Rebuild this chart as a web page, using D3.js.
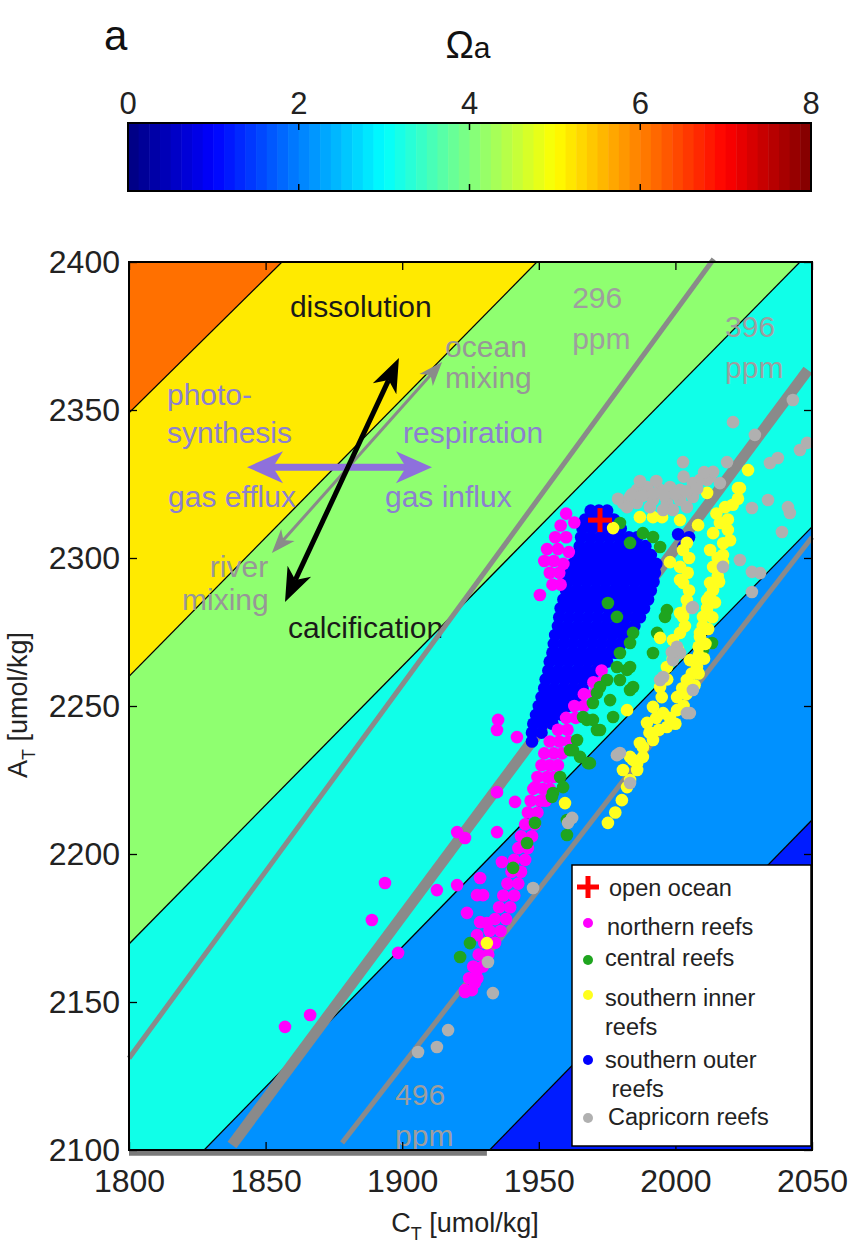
<!DOCTYPE html>
<html><head><meta charset="utf-8">
<script src="https://cdn.jsdelivr.net/npm/d3@7"></script>
<style>
body{margin:0;background:#fff}
text{font-family:"Liberation Sans",Arial,sans-serif}
</style>
</head><body>
<svg id="c" width="863" height="1244"></svg>
<script>
// ---------------- DATA ----------------
const xTicks = [1800,1850,1900,1950,2000,2050];
const yTicks = [2100,2150,2200,2250,2300,2350,2400];
const cbTicks = [0,2,4,6,8];
// Omega_a contour boundaries (CT, AT), from low to high level
const omegaBoundaries = [
  [[1932,2100],[2050,2211.5]],
  [[1827.5,2100],[2050,2310.5]],
  [[1800,2169.6],[2045.6,2400]],
  [[1800,2260],[1949.3,2400]],
  [[1800,2349],[1856,2400]]
];
const regionColors = ["#001cff","#0091ff","#10ffe8","#8fff70","#ffea00","#ff7000"];
// pCO2 isolines
const pco2Labels = ["296","396","496"];
const pco2Lines = [
  [[1800,2131],[2014,2401]],
  [[1837.7,2101.7],[2048.5,2363.5]],
  [[1878,2102.4],[2050,2307]]
];
const pco2Bottom = [[1800,2099.6],[1931,2099.6]];
const openOcean = [[1972.4,2312.8]];
const southernOuter = [
[1969,2316],[1972,2316],[1975,2316],
[1967,2313],[1970.5,2313],[1974,2313],[1977.5,2313],
[1966,2310],[1969.5,2310],[1973,2310],[1976.5,2310],[1980,2310],
[1965.5,2307],[1969,2307],[1972.5,2307],[1976,2307],[1979.5,2307],[1983,2307],[1986,2307],[2001,2308],[2005,2307],[2003,2304],
[1965,2304],[1968.5,2304],[1972,2304],[1975.5,2304],[1979,2304],[1982.5,2304],[1986,2304],[1989,2304],
[1964,2301],[1967.5,2301],[1971,2301],[1974.5,2301],[1978,2301],[1981.5,2301],[1985,2301],[1988.5,2301],[1991,2301],
[1962.5,2298],[1966,2298],[1969.5,2298],[1973,2298],[1976.5,2298],[1980,2298],[1983.5,2298],[1987,2298],[1990.5,2298],[1993,2298],
[1961.5,2295],[1965,2295],[1968.5,2295],[1972,2295],[1975.5,2295],[1979,2295],[1982.5,2295],[1986,2295],[1989.5,2295],[1992.5,2295],
[1960.5,2292],[1964,2292],[1967.5,2292],[1971,2292],[1974.5,2292],[1978,2292],[1981.5,2292],[1985,2292],[1988.5,2292],[1992,2292],
[1960,2289],[1963.5,2289],[1967,2289],[1970.5,2289],[1974,2289],[1977.5,2289],[1981,2289],[1984.5,2289],[1988,2289],[1991,2289],
[1959,2286],[1962.5,2286],[1966,2286],[1969.5,2286],[1973,2286],[1976.5,2286],[1980,2286],[1983.5,2286],[1987,2286],[1990,2286],
[1958,2283],[1961.5,2283],[1965,2283],[1968.5,2283],[1972,2283],[1975.5,2283],[1979,2283],[1982.5,2283],[1986,2283],[1988.5,2283],
[1957.5,2280],[1961,2280],[1964.5,2280],[1968,2280],[1971.5,2280],[1975,2280],[1978.5,2280],[1982,2280],[1985.5,2280],[1987,2280],
[1957,2277],[1960.5,2277],[1964,2277],[1967.5,2277],[1971,2277],[1974.5,2277],[1978,2277],[1981.5,2277],[1985,2277],
[1956,2274],[1959.5,2274],[1963,2274],[1966.5,2274],[1970,2274],[1973.5,2274],[1977,2274],[1980.5,2274],[1983,2274],
[1955.5,2271],[1959,2271],[1962.5,2271],[1966,2271],[1969.5,2271],[1973,2271],[1976.5,2271],[1980,2271],
[1955,2268],[1958.5,2268],[1962,2268],[1965.5,2268],[1969,2268],[1972.5,2268],[1976,2268],[1978,2268],
[1954,2265],[1957.5,2265],[1961,2265],[1964.5,2265],[1968,2265],[1971.5,2265],[1975,2265],
[1953.5,2262],[1957,2262],[1960.5,2262],[1964,2262],[1967.5,2262],[1971,2262],
[1952.5,2259],[1956,2259],[1959.5,2259],[1963,2259],[1966.5,2259],[1969.5,2259],
[1952,2256],[1955.5,2256],[1959,2256],[1962.5,2256],[1966,2256],
[1951,2253],[1954.5,2253],[1958,2253],[1961.5,2253],[1964,2253],
[1950,2250],[1953.5,2250],[1957,2250],[1960.5,2250],
[1949,2247],[1952.5,2247],[1956,2247],[1958.5,2247],
[1948,2244],[1951.5,2244],[1955,2244],
[1947.5,2241],[1951,2241],
[1947.5,2238]
];
const northernReefs = [
[1960,2315],[1963,2312],[1958,2311],[1956,2307],[1960,2307],[1953,2303],[1957,2303],[1961,2302],
[1952,2299],[1955.5,2299],[1959,2298],[1954,2295],[1957.5,2295],[1955,2291],[1958,2291],[1950.4,2287.5],
[1973,2262],[1970,2258],[1973,2258],[1966.5,2254],[1970,2254],[1963,2250],[1966.5,2250],
[1960,2246],[1963.5,2246],[1957,2242],[1960.5,2242],[1954,2238],[1957.5,2238],[1961,2238],
[1952,2234],[1955.5,2234],[1958.5,2234],[1951,2230],[1954,2230],[1957,2230],
[1949.5,2226],[1953,2226],[1955.5,2226],[1948,2222],[1951.5,2222],[1954,2222],
[1947,2218],[1950.5,2218],[1952.5,2218],[1946,2214],[1949.5,2214],[1945,2210],[1948.5,2210],
[1943.5,2206],[1947.5,2206],[1942.5,2202],[1946,2202],[1941,2198],[1945,2198],
[1940,2194],[1943.5,2194],[1938.5,2190],[1942.5,2190],[1937,2186],[1941,2186],
[1935.5,2182],[1939.5,2182],[1934,2178],[1938,2178],[1932,2174],[1936,2174],
[1930,2170],[1934,2170],[1928,2166],[1931.5,2166],[1926,2162],[1929.5,2162],
[1924.5,2158],[1927.5,2158],[1923,2154],[1925.5,2154],
[1935.1,2245.3],[1934.7,2241.9],[1942.0,2239.5],[1934.7,2220.9],[1941.3,2217.6],[1948.6,2222.6],
[1920.1,2207.4],[1923.0,2205.4],[1934.7,2207.4],[1912.7,2187.8],[1920.1,2189.5],[1928.5,2191.9],
[1927.4,2186.1],[1929.6,2186.1],[1923.7,2180.1],[1928.5,2177.0],[1927.4,2172.6],[1936.5,2197.3],
[1893.7,2190.2],[1888.9,2177.7],[1898.5,2166.6],[1857.1,2141.6],[1866.3,2145.6],
[1923.0,2153.4],[1926.6,2156.4],[1927.4,2160.8],[1931.0,2176.7]
];
const centralReefs = [
[1979.7,2311.8],[1983.4,2305.1],[1988.1,2308.4],[1991.8,2307.1],[1994.4,2303.7],
[1996.9,2282.4],[1996.2,2280.1],[1993.3,2274.7],[1991.8,2267.9],[1984.5,2274.7],[1983.4,2271.3],
[1979.7,2267.9],[1982.3,2262.2],[1978.6,2263.2],[1975.0,2258.8],[1979.7,2258.8],[1983.4,2255.4],
[1972.4,2256.4],[1971.3,2254.4],[1969.8,2251.0],[1976.1,2252.0],[1977.2,2246.3],[1966.2,2246.3],
[1971.3,2241.9],[1967.6,2245.3],[1964.0,2238.5],[1961.4,2235.1],[1965.1,2232.8],[1968.7,2230.7],
[1957.8,2226.0],[1955.2,2220.6],[1975.3,2284.8],[1978.6,2280.1],[2010.1,2268.9],[2013.4,2271.3],
[1984.5,2256.4],[1983.4,2263.2],[1969.8,2245.3],[1972.4,2241.9],[1962.5,2235.1],[1968.0,2230.7],
[1958.9,2222.6],[1954.8,2219.3],[1960.3,2211.5],[1948.6,2210.5],[1945.7,2203.7],[1940.6,2195.3],
[1960.3,2206.4],[1924.8,2169.9],[1921.2,2165.2]
];
const southernInner = [
[2026.6,2329.7],[2023.6,2323.6],[2022.9,2320],[2018.2,2317.2],[2019.2,2313],[2016.3,2311.8],
[2019.2,2309.5],[2013.8,2308.4],[2017.5,2305],[2012.7,2302.7],[2017.4,2301],[2017.4,2298.3],
[2013.8,2297.0],[2015.5,2294],[2012.7,2291.6],[2013.8,2289.2],[2012.5,2287],[2011.6,2285.8],
[2011.6,2283],[2011.6,2281.4],[2010.1,2280.1],[2010,2277],[2009.0,2274.7],[2009.0,2273.3],
[2008.5,2270],[2008.5,2267],[2007.9,2263.2],[2005.3,2265.5],[2006,2261],[2004.2,2258.8],
[2002.5,2256],[2000.6,2253.0],[2000.6,2248.6],[1998,2246],[1995.5,2247.6],[1996.9,2242.9],
[1994,2242],[1991.8,2240.9],[1991.8,2238.5],[1988.1,2236.1],[1988.1,2232.8],[1986.0,2230.7],
[1986.0,2228.4],[1983.4,2225.0],[1982.3,2222.6],[1980.4,2218.2],[1978,2214],[1975.3,2210.5],
[1959.6,2217.2],[1931.0,2169.9],
[2002.8,2302.7],[2004.2,2305.1],[2001.7,2297.0],[2001.7,2292.6],[2002.8,2291.6],[2004.2,2285.8],
[2001.7,2281.4],[2002.8,2280.1],[2001.7,2274.7],[1999.1,2272.3],[1996.9,2263.2],[1994.4,2256.4],
[1991.8,2249.7],[1989.6,2244.3],[1987.0,2237.5],[1983.4,2232.8],[1980.8,2228.4],
[1977.2,2310.1],[1987.0,2313.8],[1991.8,2313.8],[1995.1,2313.8],[2001.7,2312.8],[2008.3,2311.1],
[1998.0,2298.6],[1994.4,2273.0],[2011.6,2322.0],[2022.9,2323.6],[1982.3,2248.6],[1984.5,2231.8],
[2015,2315],[2021,2318],[2020,2306],[2015.5,2300],[2016,2292],[2014.5,2285],[2013.5,2280],
[2012,2276],[2011,2271],[2010.5,2266],[2008.5,2261],[2007,2257],[2004,2254],[2003,2250],[2000,2244],
[2005,2300],[2004.5,2295],[2005,2289],[2004.5,2283],[2003.5,2277],[2001,2269],[1999,2266],
[1997,2259],[1995,2253],[1993,2246],[1990.5,2241]
];
const capricornReefs = [
[2043.0,2353.4],[2021.1,2345.9],[2029.1,2341.6],[2018.9,2332.4],[2002.8,2332.4],[2045.6,2336.5],
[2048.2,2338.9],[2034.6,2332.1],[2037.5,2333.8],[2028.0,2316.9],[2033.9,2319.6],[2041.2,2317.2],
[2041.9,2315.2],[2039.0,2308.8],[2023.6,2299.3],[2017.4,2297.0],[2028.0,2295.3],[2031.0,2294.9],
[2028.0,2288.5],[2006.1,2283.1],[2016.3,2325.3],[2011.6,2326.4],
[1980.8,2318.6],[1983.4,2320.6],[1985.9,2323.0],[1989.6,2324.0],[1994.4,2323.0],[1998.0,2324.0],
[2001.7,2323.0],[2006.4,2325.3],[2009.0,2326.4],[2012.7,2327.4],[2013.8,2329.1],[1991.8,2319.6],
[1996.9,2318.6],[2001.7,2319.6],[2006.4,2320.6],[1999.1,2316.2],[2004.2,2317.2],[1985.9,2318.6],
[1990.7,2317.2],[1995.5,2316.2],[1982.3,2317.2],
[1984,2321.5],[1988,2321],[1992,2321.8],[1996,2321],[2000,2321.5],[2004,2322.5],[2008,2323.5],
[2010.5,2329],[1987,2326],[1993,2326],[2003,2327.5],[1979,2320],
[2006.4,2283.4],[2000.6,2270.0],[2001.7,2267.9],[1999.1,2265.5],[1995.5,2259.8],[1994.4,2258.8],
[2006.4,2255.4],[2004.2,2247.6],[1979.7,2234.1],[1983.4,2224.0],[1978.6,2233.4],[1962.2,2212.2],
[1960.7,2210.5],[1947.9,2188.5],[2005.3,2247.6],[1998.7,2268.2],[1931.4,2163.5],[1933.2,2153.0],
[1916.8,2140.5],[1912.7,2134.8],[1905.8,2133.1]
];
// process arrows (CT, AT of the two tips)
const arrowCalc = [[1857.1,2285.1],[1898.8,2367.6]];
const arrowMix = [[1852.3,2301.7],[1914.6,2366.2]];
const arrowGas = [[1843.2,2330.7],[1910.9,2330.7]];
// annotation texts [text, CT, AT]
const blackLabels = [["dissolution",1858.9,2381.4],["calcification",1858.2,2273.0]];
const grayLabels = [["ocean",1915.7,2367.9],["mixing",1915.7,2357.4],["river",1829.6,2293.6],["mixing",1819.4,2282.4]];
const purpleLabels = [["photo-",1813.9,2351.7],["synthesis",1813.9,2338.9],["respiration",1900.3,2338.9],["gas efflux",1814.3,2317.2],["gas influx",1893.7,2317.2]];
const ppmLabelPos = [[1962.2,2384.5],[2018.2,2374.7],[1897.4,2115.2]];
const legendLabels = [["open ocean"],["northern reefs"],["central reefs"],["southern inner","reefs"],["southern outer"," reefs"],["Capricorn reefs"]];

// ---------------- DRAW ----------------
const svg = d3.select("#c");
const x = d3.scaleLinear([1800,2050],[129,812]);
const y = d3.scaleLinear([2100,2400],[1150,262]);
const cb = d3.scaleLinear([0,8],[128,811]);
const jet = t => {
  const c = v => Math.max(0, Math.min(1, v));
  return d3.rgb(255*c(1.5-Math.abs(4*t-3)), 255*c(1.5-Math.abs(4*t-2)), 255*c(1.5-Math.abs(4*t-1)));
};

// panel label + title
svg.append("text").attr("x",104).attr("y",50).attr("font-size",42).attr("fill","#111").text("a");
const tt = svg.append("text").attr("x",468).attr("y",58).attr("text-anchor","middle").attr("fill","#111");
tt.append("tspan").attr("font-size",38).text("Ω");
tt.append("tspan").attr("font-size",30).text("a");

// colorbar
const nC = 64;
svg.append("g").selectAll("rect").data(d3.range(nC)).join("rect")
  .attr("x", i => cb(i*8/nC)).attr("width", i => cb((i+1)*8/nC)-cb(i*8/nC)+0.5)
  .attr("y",123).attr("height",68).attr("fill", i => jet((i+0.5)/nC));
svg.append("rect").attr("x",cb(0)).attr("y",123).attr("width",cb(8)-cb(0)).attr("height",68)
  .attr("fill","none").attr("stroke","#000").attr("stroke-width",2);
const cbAx = svg.append("g");
cbAx.selectAll("line.t").data(cbTicks.slice(1,-1)).join("line")
  .attr("x1",d=>cb(d)).attr("x2",d=>cb(d)).attr("y1",123).attr("y2",130).attr("stroke","#000").attr("stroke-width",1.5);
cbAx.selectAll("line.b").data(cbTicks.slice(1,-1)).join("line")
  .attr("x1",d=>cb(d)).attr("x2",d=>cb(d)).attr("y1",184).attr("y2",191).attr("stroke","#000").attr("stroke-width",1.5);
cbAx.selectAll("text").data(cbTicks).join("text")
  .attr("x",d=>cb(d)).attr("y",114).attr("text-anchor","middle").attr("font-size",31).attr("fill","#222").text(d=>d);

// clip
svg.append("clipPath").attr("id","plotclip").append("rect")
  .attr("x",x(1800)).attr("y",y(2400)).attr("width",x(2050)-x(1800)).attr("height",y(2100)-y(2400));
const plot = svg.append("g").attr("clip-path","url(#plotclip)");

// filled Omega regions
const atAt = (seg, ct) => { const [[a,b],[c,d]] = seg; return b + (d-b)/(c-a)*(ct-a); };
const lo = 1700, hi = 2150;
regionColors.forEach((col, i) => {
  const upper = i < omegaBoundaries.length ? [[lo, atAt(omegaBoundaries[i],lo)],[hi, atAt(omegaBoundaries[i],hi)]] : [[lo,2600],[hi,2600]];
  const lower = i > 0 ? [[hi, atAt(omegaBoundaries[i-1],hi)],[lo, atAt(omegaBoundaries[i-1],lo)]] : [[hi,1900],[lo,1900]];
  const pts = upper.concat(lower).map(([c,a]) => [x(c), y(a)]);
  plot.append("path").attr("d", "M" + pts.join("L") + "Z").attr("fill", col);
});
omegaBoundaries.forEach(seg => {
  plot.append("line").attr("x1",x(lo)).attr("y1",y(atAt(seg,lo))).attr("x2",x(hi)).attr("y2",y(atAt(seg,hi)))
    .attr("stroke","#000").attr("stroke-width",1.3);
});

// labels (below lines)
const annot = svg.append("g").attr("font-size",30);
annot.selectAll("text.b").data(blackLabels).join("text").attr("x",d=>x(d[1])).attr("y",d=>y(d[2])).attr("fill","#1a1a1a").text(d=>d[0]);
annot.selectAll("text.g").data(grayLabels).join("text").attr("x",d=>x(d[1])).attr("y",d=>y(d[2])).attr("fill","#979797").text(d=>d[0]);
annot.selectAll("text.p").data(purpleLabels).join("text").attr("x",d=>x(d[1])).attr("y",d=>y(d[2])).attr("fill","#8c80d0").text(d=>d[0]);
pco2Labels.forEach((lab,i) => {
  annot.append("text").attr("x",x(ppmLabelPos[i][0])).attr("y",y(ppmLabelPos[i][1])).attr("fill","#9e9e9e").text(lab);
  annot.append("text").attr("x",x(ppmLabelPos[i][0])).attr("y",y(ppmLabelPos[i][1])+41).attr("fill","#9e9e9e").text("ppm");
});

// pCO2 lines
const pWidths = [5,11,5];
pco2Lines.forEach((seg,i) => {
  svg.append("line").attr("x1",x(Math.max(1800,seg[0][0]))).attr("y1",y(seg[0][1])).attr("x2",x(seg[1][0])).attr("y2",y(seg[1][1]))
    .attr("stroke","#8a8a8a").attr("stroke-width",pWidths[i]);
});
svg.append("line").attr("x1",x(pco2Bottom[0][0])).attr("y1",y(pco2Bottom[0][1])+2).attr("x2",x(pco2Bottom[1][0])).attr("y2",y(pco2Bottom[1][1])+2)
  .attr("stroke","#7a7a7a").attr("stroke-width",5);

// arrows
function dblArrow(seg, color, w, len, hw) {
  const p0 = [x(seg[0][0]), y(seg[0][1])], p1 = [x(seg[1][0]), y(seg[1][1])];
  const dx = p1[0]-p0[0], dy = p1[1]-p0[1], L = Math.hypot(dx,dy);
  const u = [dx/L, dy/L], n = [-u[1], u[0]];
  const g = svg.append("g");
  const notch = 0.72;
  g.append("line").attr("x1",p0[0]+u[0]*len*notch).attr("y1",p0[1]+u[1]*len*notch)
    .attr("x2",p1[0]-u[0]*len*notch).attr("y2",p1[1]-u[1]*len*notch).attr("stroke",color).attr("stroke-width",w);
  const head = (tip, dir) => {
    const b = [tip[0]-dir[0]*len, tip[1]-dir[1]*len];
    const m = [tip[0]-dir[0]*len*notch, tip[1]-dir[1]*len*notch];
    const pts = [tip, [b[0]+n[0]*hw, b[1]+n[1]*hw], m, [b[0]-n[0]*hw, b[1]-n[1]*hw]];
    g.append("path").attr("d","M"+pts.join("L")+"Z").attr("fill",color);
  };
  head(p1, u); head(p0, [-u[0],-u[1]]);
}
dblArrow(arrowMix, "#8a8a8a", 3, 24, 9);
dblArrow(arrowGas, "#8e70dc", 7, 36, 16);
dblArrow(arrowCalc, "#000", 5, 34, 13);

// scatter
const R = 6.3;
const sc = svg.append("g").attr("clip-path","url(#plotclip)");
const dots = (arr, col) => sc.append("g").selectAll("circle").data(arr).join("circle")
  .attr("cx",d=>x(d[0])).attr("cy",d=>y(d[1])).attr("r",R).attr("fill",col);
dots(southernOuter, "#0000ff");
dots(northernReefs, "#ff00ff");
dots(centralReefs, "#1fa51f");
dots(southernInner, "#ffff1e");
dots(capricornReefs, "#b0b0b0");
const cross = (g, cx, cy, s, w) => {
  g.append("line").attr("x1",cx-s).attr("x2",cx+s).attr("y1",cy).attr("y2",cy).attr("stroke","#ff0000").attr("stroke-width",w);
  g.append("line").attr("x1",cx).attr("x2",cx).attr("y1",cy-s).attr("y2",cy+s).attr("stroke","#ff0000").attr("stroke-width",w);
};
openOcean.forEach(d => cross(sc, x(d[0]), y(d[1]), 12, 5));

// axes
const fmt = d3.format("d");
const axB = svg.append("g").attr("transform",`translate(0,${y(2100)})`)
  .call(d3.axisBottom(x).tickValues(xTicks).tickFormat(fmt).tickSizeInner(-8).tickSizeOuter(0).tickPadding(19));
const axL = svg.append("g").attr("transform",`translate(${x(1800)},0)`)
  .call(d3.axisLeft(y).tickValues(yTicks).tickFormat(fmt).tickSizeInner(-8).tickSizeOuter(0).tickPadding(9));
const axT = svg.append("g").attr("transform",`translate(0,${y(2400)})`)
  .call(d3.axisTop(x).tickValues(xTicks).tickFormat("").tickSizeInner(-8).tickSizeOuter(0));
const axR = svg.append("g").attr("transform",`translate(${x(2050)},0)`)
  .call(d3.axisRight(y).tickValues(yTicks).tickFormat("").tickSizeInner(-8).tickSizeOuter(0));
[axB,axL,axT,axR].forEach(a => {
  a.select(".domain").remove();
  a.selectAll(".tick line").attr("stroke","#000").attr("stroke-width",1.3);
  a.selectAll("text").attr("font-size",32).attr("fill","#222").attr("font-family",'"Liberation Sans",Arial,sans-serif');
});
svg.append("rect").attr("x",x(1800)).attr("y",y(2400)).attr("width",x(2050)-x(1800)).attr("height",y(2100)-y(2400))
  .attr("fill","none").attr("stroke","#000").attr("stroke-width",2);

// axis titles
const xl = svg.append("text").attr("x",465).attr("y",1232).attr("text-anchor","middle").attr("font-size",27).attr("fill","#222");
xl.append("tspan").text("C");
xl.append("tspan").attr("dy",8).attr("font-size",18).text("T");
xl.append("tspan").attr("dy",-8).text("  [umol/kg]");
const yl = svg.append("text").attr("transform","translate(27,705) rotate(-90)").attr("text-anchor","middle").attr("font-size",27).attr("fill","#222");
yl.append("tspan").text("A");
yl.append("tspan").attr("dy",8).attr("font-size",18).text("T");
yl.append("tspan").attr("dy",-8).text("  [umol/kg]");

// legend
const lg = svg.append("g");
lg.append("rect").attr("x",572).attr("y",865).attr("width",239).attr("height",281).attr("fill","#fff").attr("stroke","#000").attr("stroke-width",1.5);
const legColors = [null,"#ff00ff","#1fa51f","#ffff1e","#0000ff","#b0b0b0"];
const legMarkY = [887,923,960,995,1060,1118];
const legTextX = [609,607,605,605,605,608];
const legTextY = [896,935,966,1006,1068,1125];
cross(lg, 588, legMarkY[0], 11, 5);
legColors.forEach((c,i) => { if (c) lg.append("circle").attr("cx",588).attr("cy",legMarkY[i]).attr("r",5).attr("fill",c); });
legendLabels.forEach((lines,i) => {
  lines.forEach((t,j) => lg.append("text").attr("x",legTextX[i]).attr("y",legTextY[i]+j*29).attr("font-size",23.5)
    .attr("fill","#222").attr("xml:space","preserve").style("white-space","pre").text(t));
});
</script>
</body></html>
